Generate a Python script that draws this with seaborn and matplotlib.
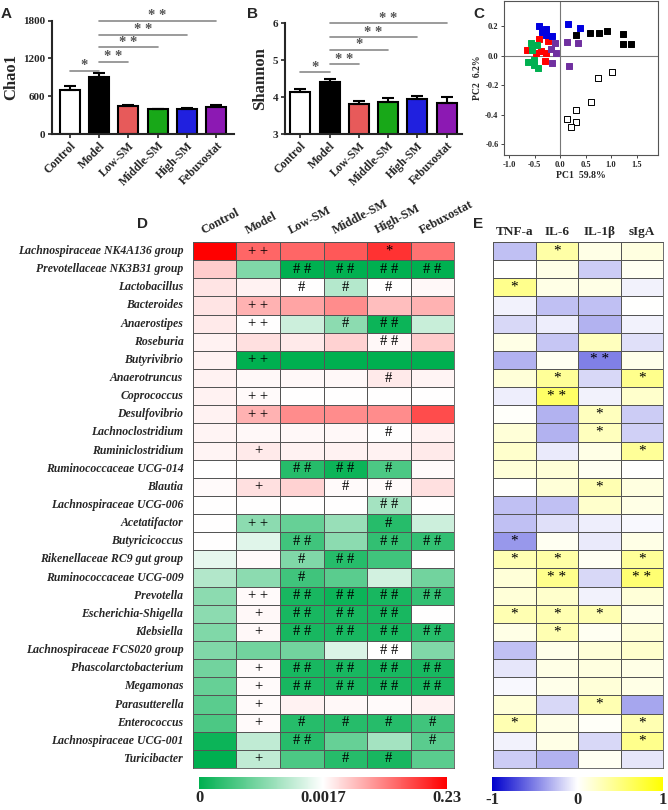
import numpy as np
import pandas as pd
import matplotlib
matplotlib.use("Agg")
import matplotlib.pyplot as plt
import seaborn as sns
from matplotlib.colors import LinearSegmentedColormap, TwoSlopeNorm

# Data

groups = ["Control", "Model", "Low-SM", "Middle-SM", "High-SM", "Febuxostat"]
bar_colors = ["#FFFFFF", "#000000", "#FF4242", "#00C000", "#0000FF", "#9900CC"]

chao1_mean = [705, 905, 440, 395, 402, 422]
chao1_sd = [55, 65, 15, 10, 12, 35]
shannon_mean = [4.14, 4.42, 3.81, 3.87, 3.96, 3.83]
shannon_sd = [0.09, 0.07, 0.08, 0.10, 0.07, 0.18]

# significance brackets: (from group, to group, height, label)
chao1_sig = [(0, 1, 1006, "*"), (1, 2, 1144, "* *"), (1, 3, 1377, "* *"),
             (1, 4, 1578, "* *"), (1, 5, 1800, "* *")]
shannon_sig = [(0, 1, 4.67, "*"), (1, 2, 4.89, "* *"), (1, 3, 5.28, "*"),
               (1, 4, 5.62, "* *"), (1, 5, 6.0, "* *")]

# PCA scores
pc1_control = [1.01, 0.74, 0.60, 0.32, 0.32, 0.13, 0.21]
pc2_control = [-0.11, -0.15, -0.315, -0.37, -0.45, -0.43, -0.485]
pc1_model = [0.31, 0.58, 0.77, 0.92, 1.23, 1.23, 1.39]
pc2_model = [0.14, 0.155, 0.155, 0.17, 0.15, 0.08, 0.083]
pc1_low = [-0.23, -0.41, -0.64, -0.47, -0.37, -0.27, -0.29]
pc2_low = [0.10, 0.115, 0.043, 0.02, 0.03, 0.022, -0.036]
pc1_mid = [-0.58, -0.45, -0.55, -0.63, -0.51, -0.52, -0.43]
pc2_mid = [0.09, 0.076, 0.04, -0.04, -0.027, -0.063, -0.08]
pc1_high = [-0.42, -0.28, -0.35, -0.28, -0.16, 0.16, 0.40]
pc2_high = [0.20, 0.18, 0.16, 0.14, 0.135, 0.22, 0.19]
pc1_feb = [-0.10, -0.085, -0.18, -0.15, 0.14, 0.35, 0.17]
pc2_feb = [0.088, 0.02, 0.047, -0.047, 0.092, 0.088, -0.07]
pca_colors = ["#FFFFFF", "#000000", "#FF0000", "#00B050", "#0000E0", "#7030A0"]

taxa = [
    "Lachnospiraceae NK4A136 group", "Prevotellaceae NK3B31 group", "Lactobacillus",
    "Bacteroides", "Anaerostipes", "Roseburia", "Butyrivibrio", "Anaerotruncus",
    "Coprococcus", "Desulfovibrio", "Lachnoclostridium", "Ruminiclostridium",
    "Ruminococcaceae UCG-014", "Blautia", "Lachnospiraceae UCG-006", "Acetatifactor",
    "Butyricicoccus", "Rikenellaceae RC9 gut group", "Ruminococcaceae UCG-009",
    "Prevotella", "Escherichia-Shigella", "Klebsiella", "Lachnospiraceae FCS020 group",
    "Phascolarctobacterium", "Megamonas", "Parasutterella", "Enterococcus",
    "Lachnospiraceae UCG-001", "Turicibacter",
]

# relative abundance per group
abundance = [
    [0.23, 0.139, 0.139, 0.150, 0.184, 0.127],
    [0.047, 0.00085, 0.0, 0.0, 0.0, 0.0],
    [0.025, 0.013, 0.0017, 0.0012, 0.0017, 0.0085],
    [0.025, 0.070, 0.082, 0.104, 0.059, 0.070],
    [0.020, 0.0017, 0.00136, 0.00094, 0.00009, 0.00133],
    [0.013, 0.029, 0.020, 0.041, 0.0085, 0.047],
    [0.013, 0.0, 0.0, 0.0, 0.0, 0.0],
    [0.013, 0.0085, 0.0085, 0.0085, 0.020, 0.011],
    [0.013, 0.0063, 0.0017, 0.0017, 0.0017, 0.0017],
    [0.013, 0.070, 0.104, 0.104, 0.104, 0.162],
    [0.011, 0.0085, 0.0085, 0.0085, 0.0017, 0.013],
    [0.011, 0.020, 0.013, 0.013, 0.013, 0.020],
    [0.0017, 0.0017, 0.00026, 0.00009, 0.00051, 0.0063],
    [0.0063, 0.029, 0.041, 0.0063, 0.0063, 0.029],
    [0.0017, 0.0017, 0.0017, 0.0017, 0.0011, 0.0017],
    [0.0017, 0.00094, 0.00068, 0.00102, 0.00026, 0.00136],
    [0.0017, 0.0015, 0.00043, 0.00094, 0.00034, 0.00034],
    [0.00153, 0.0063, 0.00085, 0.00026, 0.00043, 0.0017],
    [0.00119, 0.00094, 0.00043, 0.0006, 0.0014, 0.00077],
    [0.00094, 0.0063, 0.00017, 0.00009, 0.00017, 0.00034],
    [0.00094, 0.0085, 0.00017, 0.00017, 0.00017, 0.0017],
    [0.00085, 0.0085, 0.00017, 0.00017, 0.00017, 0.00026],
    [0.00085, 0.00077, 0.00077, 0.00145, 0.0017, 0.00085],
    [0.00077, 0.0063, 0.00017, 0.00017, 0.00017, 0.00017],
    [0.00068, 0.0063, 0.00017, 0.00017, 0.00017, 0.00017],
    [0.0006, 0.0063, 0.013, 0.0085, 0.0063, 0.013],
    [0.00051, 0.0063, 0.00026, 0.00026, 0.00026, 0.00043],
    [0.00009, 0.00128, 0.00026, 0.00068, 0.0011, 0.0006],
    [0.0, 0.00128, 0.00051, 0.00026, 0.00017, 0.0006],
]

abundance_marks = [
    ["", "+ +", "", "", "*", ""],
    ["", "", "# #", "# #", "# #", "# #"],
    ["", "", "#", "#", "#", ""],
    ["", "+ +", "", "", "", ""],
    ["", "+ +", "", "#", "# #", ""],
    ["", "", "", "", "# #", ""],
    ["", "+ +", "", "", "", ""],
    ["", "", "", "", "#", ""],
    ["", "+ +", "", "", "", ""],
    ["", "+ +", "", "", "", ""],
    ["", "", "", "", "#", ""],
    ["", "+", "", "", "", ""],
    ["", "", "# #", "# #", "#", ""],
    ["", "+", "", "#", "#", ""],
    ["", "", "", "", "# #", ""],
    ["", "+ +", "", "", "#", ""],
    ["", "", "# #", "", "# #", "# #"],
    ["", "", "#", "# #", "", ""],
    ["", "", "#", "", "", ""],
    ["", "+ +", "# #", "# #", "# #", "# #"],
    ["", "+", "# #", "# #", "# #", ""],
    ["", "+", "# #", "# #", "# #", "# #"],
    ["", "", "", "", "# #", ""],
    ["", "+", "# #", "# #", "# #", "# #"],
    ["", "+", "# #", "# #", "# #", "# #"],
    ["", "+", "", "", "", ""],
    ["", "+", "#", "#", "#", "#"],
    ["", "", "# #", "", "", "#"],
    ["", "+", "", "#", "#", ""],
]

cytokines = ["TNF-a", "IL-6", "IL-1β", "sIgA"]

correlation = [
    [-0.25, 0.35, 0.10, 0.12],
    [0.0, 0.10, -0.20, 0.05],
    [0.45, 0.10, 0.10, -0.05],
    [-0.05, -0.25, -0.25, 0.0],
    [-0.15, -0.07, -0.30, -0.05],
    [0.10, -0.22, 0.25, -0.12],
    [-0.30, 0.05, -0.50, 0.08],
    [0.15, 0.40, -0.15, 0.45],
    [-0.07, 0.60, -0.05, 0.20],
    [0.02, -0.30, 0.25, -0.20],
    [0.15, -0.30, 0.25, -0.18],
    [0.20, -0.08, 0.10, 0.40],
    [0.15, 0.15, 0.05, 0.0],
    [0.0, 0.15, 0.30, 0.12],
    [-0.25, -0.25, 0.20, 0.10],
    [-0.25, -0.12, -0.07, -0.03],
    [-0.40, 0.05, -0.08, 0.10],
    [0.30, 0.35, 0.05, 0.40],
    [0.15, 0.45, -0.15, 0.55],
    [0.15, 0.20, -0.05, 0.15],
    [0.30, 0.30, 0.30, 0.08],
    [0.10, 0.30, 0.05, 0.15],
    [-0.25, 0.08, 0.15, 0.20],
    [-0.10, 0.10, 0.12, 0.10],
    [-0.03, 0.08, 0.15, 0.10],
    [0.15, -0.15, 0.30, -0.35],
    [0.30, 0.10, 0.03, 0.30],
    [-0.05, 0.10, -0.15, 0.45],
    [-0.20, -0.30, 0.05, -0.10],
]

correlation_marks = [
    ["", "*", "", ""], ["", "", "", ""], ["*", "", "", ""], ["", "", "", ""],
    ["", "", "", ""], ["", "", "", ""], ["", "", "* *", ""], ["", "*", "", "*"],
    ["", "* *", "", ""], ["", "", "*", ""], ["", "", "*", ""], ["", "", "", "*"],
    ["", "", "", ""], ["", "", "*", ""], ["", "", "", ""], ["", "", "", ""],
    ["*", "", "", ""], ["*", "*", "", "*"], ["", "* *", "", "* *"], ["", "", "", ""],
    ["*", "*", "*", ""], ["", "*", "", ""], ["", "", "", ""], ["", "", "", ""],
    ["", "", "", ""], ["", "", "*", ""], ["*", "", "", "*"], ["", "", "", "*"],
    ["", "", "", ""],
]

# Style

sns.set_style("ticks")
plt.rcParams["font.family"] = ["Liberation Serif", "DejaVu Serif"]
plt.rcParams["font.weight"] = "bold"
plt.rcParams["axes.labelweight"] = "bold"

W, H = 668, 810
fig = plt.figure(figsize=(W / 100, H / 100), dpi=100)


def box(x0, y0, x1, y1):
    # pixel box -> figure fraction
    return [x0 / W, 1 - y1 / H, (x1 - x0) / W, (y1 - y0) / H]


def bar_panel(ax, means, sds, sigs, ylim, yticks, ylabel, xlim):
    df = pd.DataFrame({"group": groups, "value": means})
    sns.barplot(data=df, x="group", y="value", hue="group", palette=bar_colors,
                edgecolor="black", linewidth=1.5, width=0.68, legend=False, ax=ax)
    ax.errorbar(range(len(groups)), means, yerr=[np.zeros(len(sds)), sds], fmt="none",
                ecolor="black", elinewidth=1.5, capsize=4, capthick=1.5)
    for x0, x1, y, label in sigs:
        ax.plot([x0, x1], [y, y], color="#8a8a8a", lw=1.2, clip_on=False)
        ax.annotate(label, xy=((x0 + x1) / 2, y), xytext=(0, -1), textcoords="offset points",
                    ha="center", va="bottom", color="#555555", fontsize=10.5)
    ax.set_ylim(*ylim)
    ax.set_xlim(*xlim)
    ax.set_yticks(yticks)
    ax.tick_params(axis="y", labelsize=8, length=3, width=1.2, pad=2)
    ax.tick_params(axis="x", length=3, width=1.2, pad=1)
    ax.set_xticks(range(len(groups)))
    ax.set_xticklabels(groups, rotation=45, ha="right", rotation_mode="anchor", fontsize=8.5)
    ax.set_xlabel("")
    ax.set_ylabel(ylabel, fontsize=12, labelpad=3)
    sns.despine(ax=ax)
    for s in ["left", "bottom"]:
        ax.spines[s].set_linewidth(1.5)


# Panel A
axA = fig.add_axes(box(52, 20.7, 234, 134))
bar_panel(axA, chao1_mean, chao1_sd, chao1_sig, (0, 1800), [0, 600, 1200, 1800],
          "Chao1", (-0.6, 5.6))

# Panel B
axB = fig.add_axes(box(285, 23.3, 462, 134))
bar_panel(axB, shannon_mean, shannon_sd, shannon_sig, (3, 6), [3, 4, 5, 6],
          "Shannon", (-0.52, 5.52))

# Panel C
axC = fig.add_axes(box(504, 1, 658, 155))
pca = [(pc1_control, pc2_control), (pc1_model, pc2_model), (pc1_low, pc2_low),
       (pc1_mid, pc2_mid), (pc1_high, pc2_high), (pc1_feb, pc2_feb)]
axC.axhline(0, color="#777777", lw=0.8, zorder=0)
axC.axvline(0, color="#777777", lw=0.8, zorder=0)
for (pc1, pc2), color in zip(pca, pca_colors):
    edge = "black" if color == "#FFFFFF" else color
    sns.scatterplot(x=pc1, y=pc2, marker="s", s=17, color=color, edgecolor=edge,
                    linewidth=0.7, ax=axC, zorder=3)
axC.set_xlim(-1.1, 1.92)
axC.set_ylim(-0.674, 0.373)
axC.set_xticks([-1.0, -0.5, 0.0, 0.5, 1.0, 1.5])
axC.set_yticks([-0.6, -0.4, -0.2, 0.0, 0.2])
axC.set_xticklabels(["-1.0", "-0.5", "0.0", "0.5", "1.0", "1.5"])
axC.set_yticklabels(["-0.6", "-0.4", "-0.2", "0.0", "0.2"])
axC.tick_params(labelsize=6, length=2, width=0.6, pad=2)
axC.set_xlabel("PC1  59.8%", fontsize=7, labelpad=2)
axC.set_ylabel("PC2  6.2%", fontsize=7, labelpad=2)
for s in axC.spines.values():
    s.set_color("#555555")
    s.set_linewidth(0.8)

# Panel D
cmapD = LinearSegmentedColormap.from_list("gwr", ["#00B050", "#FFFFFF", "#FF0000"])
axD = fig.add_axes(box(193, 242, 454, 768))
cbD = fig.add_axes(box(199, 777, 447, 789))
dfD = pd.DataFrame(abundance, index=taxa, columns=groups)
sns.heatmap(dfD, ax=axD, cmap=cmapD, norm=TwoSlopeNorm(vmin=0, vcenter=0.0017, vmax=0.23),
            annot=np.array(abundance_marks), fmt="",
            annot_kws=dict(color="black", fontsize=10.5, fontweight="normal"),
            linewidths=0.6, linecolor="#555555", cbar_ax=cbD,
            cbar_kws=dict(orientation="horizontal"))
axD.set_xticks([])
axD.set_yticks(np.arange(len(taxa)) + 0.5)
axD.set_yticklabels(taxa, rotation=0, fontstyle="italic", fontsize=8.5)
axD.tick_params(axis="y", length=0, pad=7)
for i, g in enumerate(groups):
    axD.text(i + 0.25, -0.45, g, rotation=28, ha="left", va="baseline",
             rotation_mode="anchor", fontsize=9)
for s in axD.spines.values():
    s.set_visible(True)
    s.set_linewidth(0.6)
    s.set_color("#555555")
cb = axD.collections[0].colorbar
cb.set_ticks([0, 0.0017, 0.23], labels=["0", "0.0017", "0.23"])
cb.ax.tick_params(length=0, labelsize=12, pad=1)
cb.outline.set_visible(False)

# Panel E
cmapE = LinearSegmentedColormap.from_list("bwy", ["#0000CD", "#FFFFFF", "#FFFF00"])
axE = fig.add_axes(box(493, 242, 663, 768))
cbE = fig.add_axes(box(492, 777, 663, 791))
dfE = pd.DataFrame(correlation, index=taxa, columns=cytokines)
sns.heatmap(dfE, ax=axE, cmap=cmapE, vmin=-1, vmax=1,
            annot=np.array(correlation_marks), fmt="",
            annot_kws=dict(color="black", fontsize=11, fontweight="normal"),
            linewidths=0.6, linecolor="#555555", cbar_ax=cbE,
            cbar_kws=dict(orientation="horizontal"), yticklabels=False)
axE.xaxis.tick_top()
axE.set_xticklabels(cytokines, rotation=0, fontsize=9.5)
axE.tick_params(axis="x", length=0, pad=3)
axE.set_ylabel("")
for s in axE.spines.values():
    s.set_visible(True)
    s.set_linewidth(0.6)
    s.set_color("#555555")
cb = axE.collections[0].colorbar
cb.set_ticks([-1, 0, 1], labels=["-1", "0", "1"])
cb.ax.tick_params(length=0, labelsize=12, pad=1)
cb.outline.set_visible(False)

# Panel letters
for letter, x, y in [("A", 1, 18), ("B", 247, 18), ("C", 473, 18), ("D", 137, 228), ("E", 473, 228)]:
    fig.text(x / W, 1 - y / H, letter, fontfamily="Liberation Sans", fontweight="bold",
             fontsize=11, va="baseline", ha="left")

plt.savefig("out.png", dpi=100)
